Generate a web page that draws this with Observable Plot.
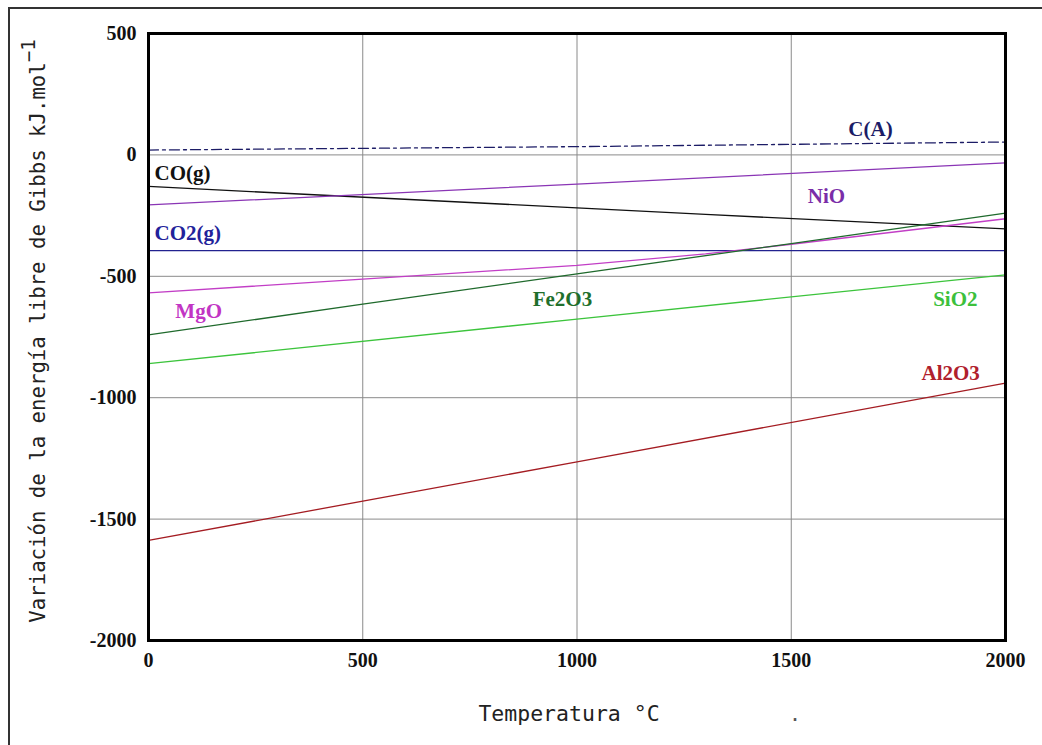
<!DOCTYPE html>
<html>
<head>
<meta charset="utf-8">
<script src="https://cdn.jsdelivr.net/npm/d3@7"></script>
<script src="https://cdn.jsdelivr.net/npm/@observablehq/plot@0.6"></script>
<style>
  html, body { margin: 0; padding: 0; background: #fff; }
  #wrap { position: relative; width: 1042px; height: 745px; overflow: hidden; }
  #outer { position: absolute; left: 8px; top: 7px; width: 1100px; height: 800px;
           border-top: 2px solid #333; border-left: 2px solid #333; }
  #chart { position: absolute; left: 0; top: 0; }
  #chart svg g[aria-label="x-axis tick label"], #chart svg g[aria-label="y-axis tick label"] {
    font-weight: bold; font-size: 20px; font-family: 'Liberation Serif', 'Times New Roman', serif;
  }
</style>
</head>
<body>
<div id="wrap"><div id="outer"></div><div id="chart"></div></div>
<script>
// Temperature (°C) and ΔG (kJ/mol)
const tempCA = [0, 1000, 2000];
const gCA = [20, 34, 53];
const tempCO = [0, 1000, 1300, 2000];
const gCO = [-130, -218, -245, -305];
const tempNiO = [0, 1000, 2000];
const gNiO = [-206, -120, -33];
const tempCO2 = [0, 2000];
const gCO2 = [-394, -394];
const tempMgO = [0, 500, 1000, 1300, 1500, 2000];
const gMgO = [-568, -512, -455, -408, -368, -263];
const tempFe2O3 = [0, 500, 1000, 1500, 2000];
const gFe2O3 = [-741, -615, -490, -365, -240];
const tempSiO2 = [0, 1000, 2000];
const gSiO2 = [-860, -676, -494];
const tempAl2O3 = [0, 1000, 2000];
const gAl2O3 = [-1588, -1264, -940];

const seriesNames = ["C(A)", "CO(g)", "NiO", "CO2(g)", "MgO", "Fe2O3", "SiO2", "Al2O3"];
const seriesColors = ["#1c1c66", "#111111", "#8a35b5", "#22228f", "#c23ec6", "#1f6a2c", "#3cc43c", "#a41c22"];
const labelColors = ["#1c1c66", "#111111", "#7a2da8", "#22229a", "#c235c4", "#1f6f2c", "#3cc03c", "#b0202c"];
// label anchor positions in data units (T, ΔG)
const labelT = [1685, 14, 1582, 14, 117, 966, 1883, 1872];
const labelG = [107, -74, -169, -321, -642, -593, -593, -901];
const labelAnchor = ["middle", "start", "middle", "start", "middle", "middle", "middle", "middle"];

const xTicks = [0, 500, 1000, 1500, 2000];
const yTicks = [500, 0, -500, -1000, -1500, -2000];

const temps = [tempCA, tempCO, tempNiO, tempCO2, tempMgO, tempFe2O3, tempSiO2, tempAl2O3];
const gs = [gCA, gCO, gNiO, gCO2, gMgO, gFe2O3, gSiO2, gAl2O3];
const rows = [];
seriesNames.forEach((n, i) => temps[i].forEach((t, j) => rows.push({series: n, t, g: gs[i][j]})));
const lineRows = (n) => rows.filter(r => r.series === n);
const labels = seriesNames.map((n, i) => ({name: n, t: labelT[i], g: labelG[i], color: labelColors[i], anchor: labelAnchor[i]}));

const serif = "'Liberation Serif', 'Times New Roman', serif";
const mono = "'DejaVu Sans Mono', 'Liberation Mono', monospace";

const marks = [
  Plot.gridX(xTicks.slice(1, -1), {stroke: "#8a8a8a", strokeOpacity: 1, strokeWidth: 1}),
  Plot.gridY(yTicks.slice(1, -1), {stroke: "#8a8a8a", strokeOpacity: 1, strokeWidth: 1}),
];
seriesNames.forEach((n, i) => {
  marks.push(Plot.line(lineRows(n), {
    x: "t", y: "g", stroke: seriesColors[i], strokeWidth: 1.3,
    strokeDasharray: n === "C(A)" ? "10,4,3,4" : null
  }));
});
labels.forEach(l => {
  marks.push(Plot.text([l], {x: "t", y: "g", text: "name", fill: l.color, textAnchor: l.anchor,
    fontFamily: serif, fontWeight: "bold", fontSize: 21}));
});
marks.push(Plot.frame({stroke: "#000", strokeWidth: 3}));
marks.push(Plot.axisX(xTicks, {tickSize: 0, tickPadding: 12, tickFormat: d => String(d), fill: "#111", label: null}));
marks.push(Plot.axisY(yTicks, {tickSize: 0, tickPadding: 12, tickFormat: d => String(d), fill: "#111", label: null}));

const chart = Plot.plot({
  width: 1042,
  height: 745,
  marginLeft: 148,
  marginRight: 37,
  marginTop: 33,
  marginBottom: 105,
  x: {domain: [0, 2000]},
  y: {domain: [-2000, 500]},
  style: {background: "transparent", color: "#111"},
  marks
});
document.getElementById("chart").appendChild(chart);

const svg = d3.select(chart);
// y-axis title with superscript
const yt = svg.append("text")
  .attr("transform", "translate(45,331) rotate(-90)")
  .attr("text-anchor", "middle")
  .attr("font-family", mono)
  .attr("font-size", 20.7)
  .attr("fill", "#222");
yt.append("tspan").text("Variación de la energía libre de Gibbs kJ.mol");
yt.append("tspan").attr("dy", -10).attr("font-size", 19).text("−1");
// x-axis title
svg.append("text")
  .attr("x", 569).attr("y", 721)
  .attr("text-anchor", "middle")
  .attr("font-family", mono)
  .attr("font-size", 21.5)
  .attr("fill", "#222")
  .text("Temperatura °C");
svg.append("text")
  .attr("x", 795).attr("y", 721)
  .attr("text-anchor", "middle")
  .attr("font-family", mono)
  .attr("font-size", 20)
  .attr("fill", "#555")
  .text(".");
</script>
</body>
</html>
